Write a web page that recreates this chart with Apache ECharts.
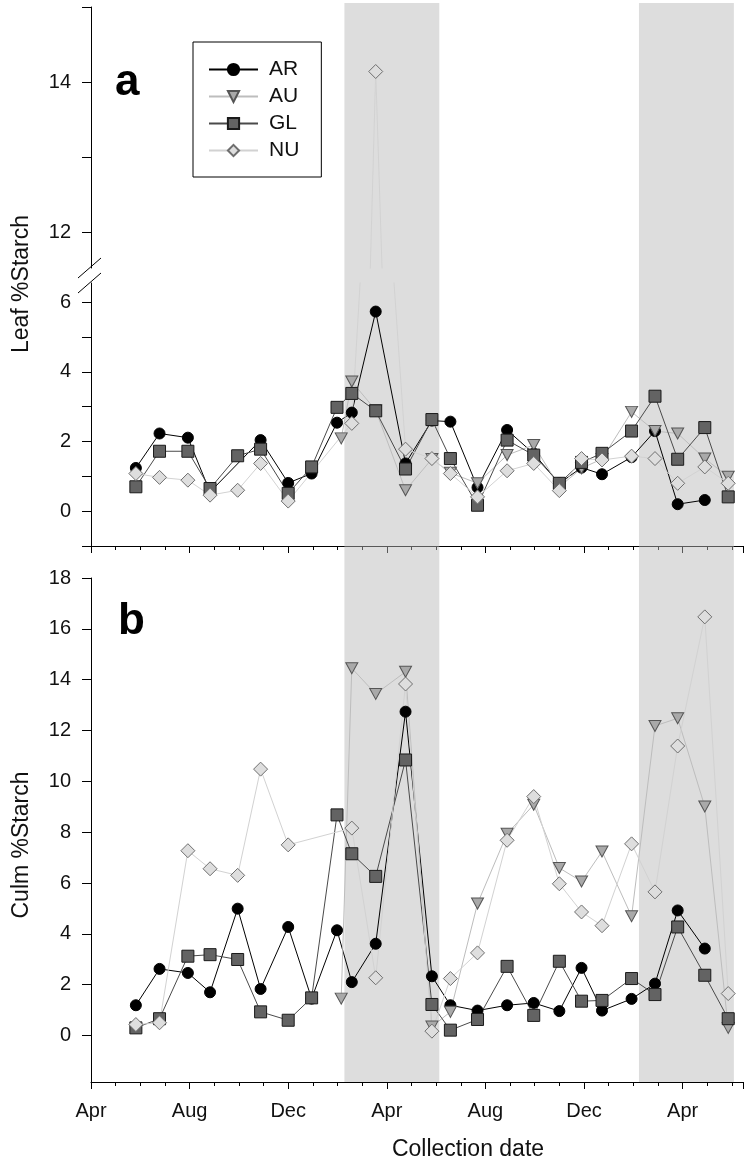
<!DOCTYPE html>
<html><head><meta charset="utf-8">
<script src="https://cdn.jsdelivr.net/npm/echarts@6/dist/echarts.min.js"></script>
<style>html,body{margin:0;padding:0;background:#fff}#c{width:747px;height:1164px}</style>
</head><body><div id="c"></div>
<script>
// x values: months since 1 April of year 1
const dates = [1.82, 2.78, 3.93, 4.83, 5.95, 6.88, 8.0, 8.95, 9.98, 10.15, 10.58, 11.55, 12.76, 13.83, 14.58, 15.68, 16.88, 17.96, 19.0, 19.9, 20.73, 21.93, 22.88, 23.8, 24.9, 25.85];

const leafAR = [1.24, 2.23, 2.11, 0.55, null, 2.04, 0.81, 1.08, 2.54, null, 2.83, 5.73, 1.37, 2.6, 2.57, 0.68, 2.33, 1.65, 0.80, 1.25, 1.06, 1.55, 2.30, 0.20, 0.32, null];
const leafAU = [null, null, null, null, null, null, null, null, null, 2.09, 3.72, 2.9, 0.60, 1.5, 1.1, 0.80, 1.61, 1.90, 0.7, 1.23, 1.5, 2.85, 2.3, 2.23, 1.51, 0.99];
const leafGL = [0.70, 1.72, 1.72, 0.65, 1.59, 1.78, 0.51, 1.27, 2.98, null, 3.38, 2.88, 1.21, 2.63, 1.51, 0.17, 2.04, 1.61, 0.80, 1.4, 1.66, 2.30, 3.30, 1.49, 2.40, 0.41];
const leafNU = [1.08, 0.97, 0.89, 0.46, 0.60, 1.37, 0.29, null, null, null, 2.52, 14.14, 1.78, 1.51, 1.08, 0.41, 1.16, 1.37, 0.59, 1.51, 1.47, 1.58, 1.51, 0.80, 1.27, 0.80];

const culmAR = [1.19, 2.62, 2.46, 1.70, 4.99, 1.83, 4.27, 1.45, 4.14, null, 2.10, 3.61, 12.74, 2.33, 1.19, 0.98, 1.19, 1.28, 0.96, 2.66, 0.98, 1.44, 2.04, 4.92, 3.42, null];
const culmAU = [null, null, null, null, null, null, null, null, null, 1.45, 14.45, 13.44, 14.31, 0.35, 0.93, 5.19, 7.94, 9.08, 6.59, 6.06, 7.24, 4.69, 12.18, 12.48, 9.01, 0.30];
const culmGL = [0.30, 0.66, 3.12, 3.18, 2.99, 0.93, 0.60, 1.48, 8.68, null, 7.15, 6.26, 10.84, 1.22, 0.21, 0.63, 2.72, 0.79, 2.92, 1.35, 1.38, 2.24, 1.61, 4.27, 2.37, 0.66];
const culmNU = [0.43, 0.50, 7.27, 6.56, 6.30, 10.48, 7.50, null, null, null, 8.16, 2.27, 13.83, 0.17, 2.24, 3.25, 7.68, 9.40, 5.97, 4.86, 4.32, 7.54, 5.65, 11.39, 16.47, 1.65];

const monthLabels = ['Apr', 'Aug', 'Dec', 'Apr', 'Aug', 'Dec', 'Apr'];
const shadeBands = [[10.28, 14.13], [22.23, 26.08]];
const seriesNames = ['AR', 'AU', 'GL', 'NU'];

const FONT = '"Liberation Sans", Arial, sans-serif';
const XMAX = 26.45;

function pts(vals) {
  const out = [];
  vals.forEach((v, i) => { if (v !== null) out.push([dates[i], v]); });
  return out;
}

const sty = {
  AR: { symbol: 'circle', size: 11, rot: 0, fill: '#000000', border: '#000000', line: '#000000' },
  AU: { symbol: 'triangle', size: [12, 11], rot: 180, fill: '#a9a9a9', border: '#555555', line: '#bdbdbd' },
  GL: { symbol: 'rect', size: 12, rot: 0, fill: '#636363', border: '#1a1a1a', line: '#4a4a4a' },
  NU: { symbol: 'diamond', size: 14, rot: 0, fill: '#dedede', border: '#6e6e6e', line: '#d2d2d2' }
};

function mk(name, vals, gi) {
  const s = sty[name];
  return {
    name: name, type: 'line', xAxisIndex: gi, yAxisIndex: gi,
    data: pts(vals), symbol: s.symbol, symbolSize: s.size, symbolRotate: s.rot,
    showAllSymbol: true, clip: true, animation: false, z: 2,
    itemStyle: { color: s.fill, borderColor: s.border, borderWidth: 1 },
    lineStyle: { color: s.line, width: 1 },
    emphasis: { disabled: true }
  };
}

const leaf = { AR: leafAR, AU: leafAU, GL: leafGL, NU: leafNU };
const culm = { AR: culmAR, AU: culmAU, GL: culmGL, NU: culmNU };

const series = [];
seriesNames.forEach(n => series.push(mk(n, leaf[n], 0)));
seriesNames.forEach(n => series.push(mk(n, leaf[n], 1)));
seriesNames.forEach(n => series.push(mk(n, culm[n], 2)));
series.push({
  type: 'line', xAxisIndex: 3, yAxisIndex: 3, data: [], z: 10, silent: true,
  markArea: {
    silent: true,
    itemStyle: { color: 'rgba(184,184,184,0.48)' },
    data: shadeBands.map(b => [{ xAxis: b[0] }, { xAxis: b[1] }])
  }
});

const axisLineStyle = { show: true, onZero: false, lineStyle: { color: '#000', width: 1 } };

function xAx(gi, show, labels) {
  return {
    type: 'value', gridIndex: gi, min: 0, max: XMAX, interval: 4, show: show,
    axisLine: axisLineStyle,
    axisTick: { show: true, inside: false, length: 7, lineStyle: { color: '#000' } },
    minorTick: { show: true, splitNumber: 4, length: 4, lineStyle: { color: '#000' } },
    splitLine: { show: false }, minorSplitLine: { show: false },
    axisLabel: {
      show: labels, margin: 19, fontSize: 20, fontFamily: FONT, color: '#111',
      formatter: v => monthLabels[Math.round(v / 4)] || ''
    }
  };
}

function yAx(gi, min, max, ticks, labels) {
  return {
    type: 'value', gridIndex: gi, min: min, max: max,
    axisLine: axisLineStyle,
    axisTick: { show: true, inside: false, length: 9, customValues: ticks, lineStyle: { color: '#000' } },
    axisLabel: { show: true, customValues: labels, margin: 20, fontSize: 20, fontFamily: FONT, color: '#111' },
    splitLine: { show: false }
  };
}

const option = {
  animation: false,
  backgroundColor: '#fff',
  grid: [
    { left: 91, right: 4, top: 7, height: 261 },
    { left: 91, right: 4, top: 283, height: 263 },
    { left: 91, right: 4, top: 578, height: 504 },
    { left: 91, right: 4, top: 3, height: 1079 }
  ],
  xAxis: [
    xAx(0, false, false),
    xAx(1, true, false),
    xAx(2, true, true),
    { type: 'value', gridIndex: 3, min: 0, max: XMAX, show: false }
  ],
  yAxis: [
    yAx(0, 11.52, 15, [12, 13, 14, 15], [12, 14]),
    yAx(1, -1, 6.55, [-1, 0, 1, 2, 3, 4, 5, 6], [0, 2, 4, 6]),
    yAx(2, -1.83, 18, [0, 2, 4, 6, 8, 10, 12, 14, 16, 18], [0, 2, 4, 6, 8, 10, 12, 14, 16, 18]),
    { type: 'value', gridIndex: 3, min: 0, max: 1, show: false }
  ],
  legend: {
    data: seriesNames, orient: 'vertical', left: 193, top: 42,
    padding: [17, 22, 16, 15], itemWidth: 49, itemHeight: 14, itemGap: 6,
    backgroundColor: '#fff', borderColor: '#000', borderWidth: 1, borderRadius: 0,
    selectedMode: false,
    textStyle: { fontSize: 21, fontFamily: FONT, color: '#111', padding: [0, 0, 0, 6] }
  },
  graphic: [
    { type: 'text', style: { text: 'Leaf %Starch', x: 0, y: 0, font: '23px ' + FONT, fill: '#111', align: 'center', verticalAlign: 'middle' }, x: 22, y: 284, rotation: Math.PI / 2 },
    { type: 'text', style: { text: 'Culm %Starch', x: 0, y: 0, font: '23px ' + FONT, fill: '#111', align: 'center', verticalAlign: 'middle' }, x: 22, y: 845, rotation: Math.PI / 2 },
    { type: 'text', style: { text: 'Collection date', x: 468, y: 1150, font: '23px ' + FONT, fill: '#111', align: 'center', verticalAlign: 'middle' } },
    { type: 'text', style: { text: 'a', x: 115, y: 83, font: 'bold 44px ' + FONT, fill: '#000', align: 'left', verticalAlign: 'middle' } },
    { type: 'text', style: { text: 'b', x: 118, y: 622, font: 'bold 44px ' + FONT, fill: '#000', align: 'left', verticalAlign: 'middle' } },
    { type: 'line', shape: { x1: 78, y1: 278, x2: 101, y2: 258 }, style: { stroke: '#000', lineWidth: 1 } },
    { type: 'line', shape: { x1: 78, y1: 293, x2: 101, y2: 273 }, style: { stroke: '#000', lineWidth: 1 } }
  ],
  series: series
};

const chart = echarts.init(document.getElementById('c'), null, { renderer: 'canvas' });
chart.setOption(option);
</script>
</body></html>
